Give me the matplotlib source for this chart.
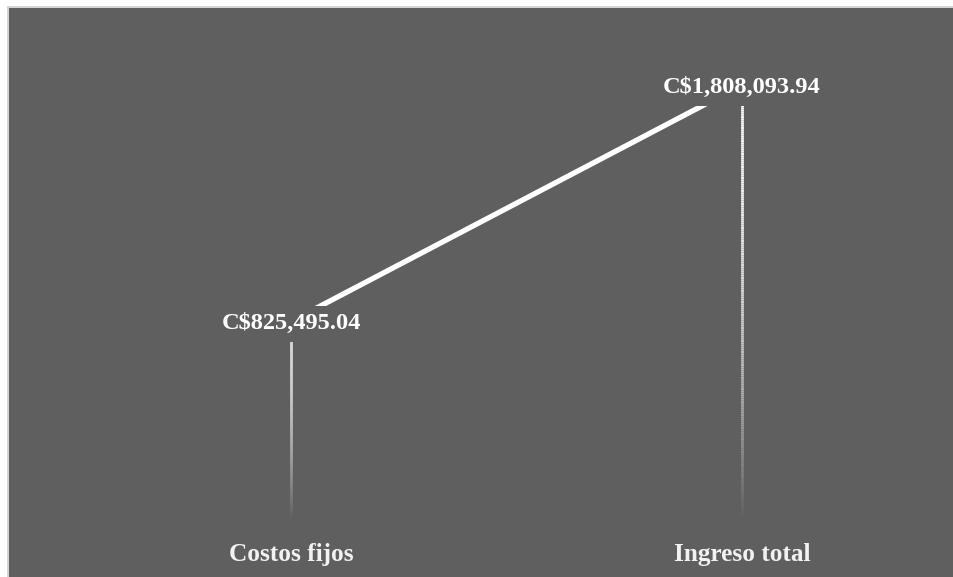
import numpy as np
import matplotlib
matplotlib.use("Agg")
import matplotlib.pyplot as plt
from matplotlib.collections import LineCollection
from matplotlib.patches import Rectangle
from matplotlib.transforms import offset_copy

categories = ["Costos fijos", "Ingreso total"]
values = [825495.04, 1808093.94]
value_labels = ["C$825,495.04", "C$1,808,093.94"]

BG = "#5f5f5f"
FG = "#ffffff"
W, H = 954, 577
DPI = 100

fig = plt.figure(figsize=(W / DPI, H / DPI), dpi=DPI, facecolor=BG)

# white margin on the top and left with a thin light border line
fig.patches.append(Rectangle((0, 1 - 6 / H), 1, 6 / H, transform=fig.transFigure,
                             facecolor="white", edgecolor="none", zorder=-5))
fig.patches.append(Rectangle((0, 0), 7 / W, 1, transform=fig.transFigure,
                             facecolor="white", edgecolor="none", zorder=-5))
fig.patches.append(Rectangle((7 / W, 1 - 8 / H), 1, 2 / H, transform=fig.transFigure,
                             facecolor="#d4d4d4", edgecolor="none", zorder=-4))
fig.patches.append(Rectangle((7 / W, 0), 2 / W, 1 - 6 / H, transform=fig.transFigure,
                             facecolor="#d4d4d4", edgecolor="none", zorder=-4))

ax = fig.add_axes([0, 0, 1, 1], zorder=1)
ax.set_facecolor("none")
ax.axis("off")

# pixel layout of the plot: category centres and the value scale
x_px = (291, 742)
base_px = 520            # pixel row (from top) of value 0
top_px = 85              # pixel row of the largest value
k = (base_px - top_px) / values[1]
ax.set_xlim(-x_px[0] / (x_px[1] - x_px[0]), (W - x_px[0]) / (x_px[1] - x_px[0]))
ax.set_ylim(-(H - base_px) / k, base_px / k)

xs = np.arange(len(categories))

# drop lines fading from white at the point to the background at the base
bg_rgb = np.array(matplotlib.colors.to_rgb(BG))
fg_rgb = np.array(matplotlib.colors.to_rgb(FG))
for x, v in zip(xs, values):
    n = 200
    ys = np.linspace(v, 0, n + 1)
    segs = [[(x, ys[i]), (x, ys[i + 1])] for i in range(n)]
    t = np.linspace(0, 1, n)
    a = np.clip(1 - t ** 2.0, 0, 1)[:, None]
    cols = fg_rgb * a + bg_rgb * (1 - a)
    lc = LineCollection(segs, colors=cols, linewidths=2.0, zorder=2,
                        capstyle="butt")
    ax.add_collection(lc)

# the series line
ax.plot(xs, values, color=FG, linewidth=3.8, solid_capstyle="butt", zorder=3)

# value labels sit on the points with a background-coloured box
label_tr = offset_copy(ax.transData, fig=fig, x=0, y=-2.5, units="dots")
for x, v, lab in zip(xs, values, value_labels):
    ax.text(x, v, lab, ha="center", va="center", color=FG,
            family="Liberation Serif", fontweight="bold", fontsize=17.6,
            zorder=5, transform=label_tr,
            bbox=dict(boxstyle="square,pad=0.32", facecolor=BG, edgecolor="none"))

# category labels under the base
for x, c in zip(xs, categories):
    ax.text(x, -(554 - base_px) / k, c, ha="center", va="center",
            color="#f2f2f2", family="Liberation Serif", fontweight="bold",
            fontsize=18.2, zorder=5)

fig.savefig("out.png", dpi=DPI, facecolor=BG)
